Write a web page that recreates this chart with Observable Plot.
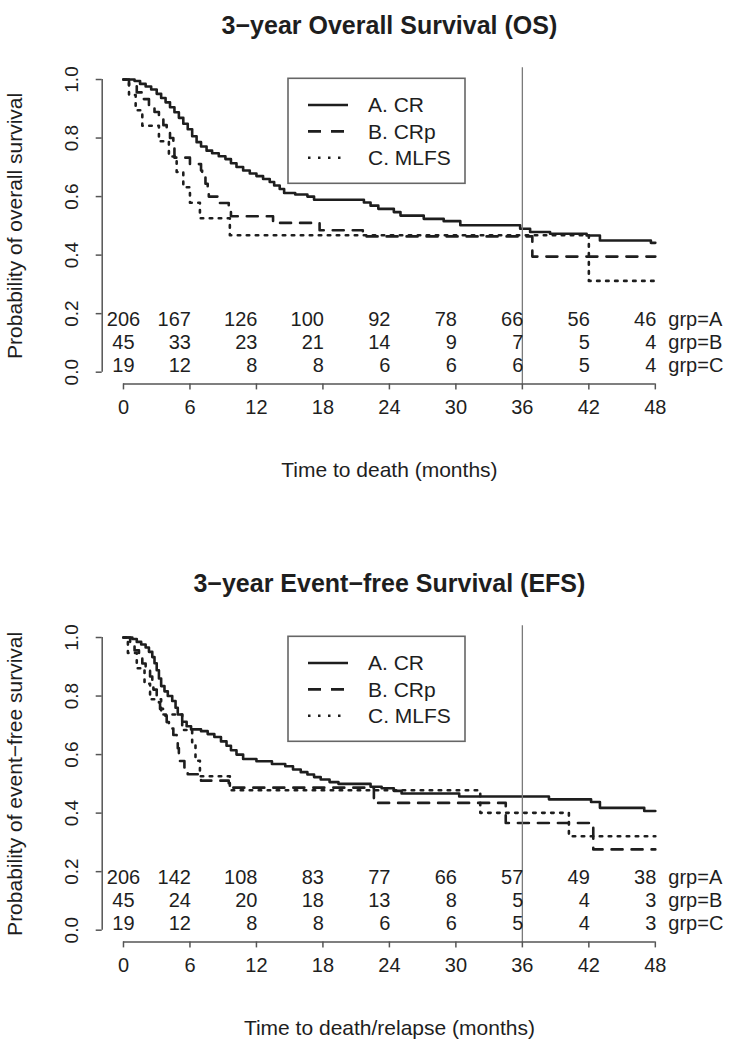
<!DOCTYPE html>
<html><head><meta charset="utf-8">
<script src="https://cdn.jsdelivr.net/npm/d3@7"></script>
<script src="https://cdn.jsdelivr.net/npm/@observablehq/plot@0.6"></script>
<style>body{margin:0;background:#fff} #charts svg{display:block}</style>
</head><body><div id="charts"></div>
<script>
// ---------- data ----------
const months = [0, 6, 12, 18, 24, 30, 36, 42, 48];
const yTicks = [0, 0.2, 0.4, 0.6, 0.8, 1.0];
const groups = ["A", "B", "C"];
const legendLabels = ["A. CR", "B. CRp", "C. MLFS"];
const landmark = 36;

// Overall survival (OS)
const osA_t = [0,1.0,1.5,2.0,2.5,3.0,3.4,3.8,4.2,4.6,5.0,5.4,5.8,6.2,6.6,7.0,7.5,8.0,8.6,9.2,9.7,10.2,10.8,11.4,12.0,12.6,13.2,13.6,14.1,14.5,15.5,16.6,17.2,21.7,22.3,23.0,24.4,25.0,27.1,28.9,30.4,35.8,36.7,38.5,41.8,43.0,47.6,48];
const osA_s = [1,0.995,0.985,0.976,0.966,0.951,0.937,0.922,0.905,0.888,0.869,0.849,0.83,0.806,0.786,0.771,0.757,0.748,0.738,0.728,0.714,0.701,0.689,0.679,0.67,0.66,0.65,0.638,0.626,0.612,0.607,0.6,0.589,0.58,0.569,0.558,0.547,0.535,0.524,0.516,0.502,0.49,0.479,0.473,0.467,0.45,0.442,0.442];
const osB_t = [0,0.5,1.2,1.8,2.3,2.8,3.2,3.6,3.9,4.2,4.5,4.6,6.0,7.0,7.1,7.4,7.6,7.7,8.5,9.5,9.7,13.5,17.7,21.6,36.9,48];
const osB_s = [1,0.978,0.956,0.933,0.911,0.889,0.867,0.844,0.822,0.8,0.778,0.733,0.711,0.689,0.667,0.644,0.622,0.6,0.578,0.556,0.533,0.51,0.485,0.464,0.395,0.395];
const osC_t = [0,0.5,1.1,1.7,3.2,4.1,4.8,5.4,6.0,6.9,9.6,42.0,48];
const osC_s = [1,0.947,0.895,0.842,0.789,0.737,0.684,0.632,0.579,0.526,0.468,0.312,0.312];
const osRiskA = [206,167,126,100,92,78,66,56,46];
const osRiskB = [45,33,23,21,14,9,7,5,4];
const osRiskC = [19,12,8,8,6,6,6,5,4];

// Event-free survival (EFS)
const efsA_t = [0,0.8,1.2,1.6,2.0,2.3,2.6,2.8,3.0,3.2,3.4,3.7,4.0,4.4,4.7,4.9,5.3,5.7,6.1,7.0,7.6,8.2,8.8,9.3,9.7,10.2,10.8,12.0,13.4,14.6,15.3,16.0,16.6,17.2,17.8,18.6,19.4,22.3,23.3,24.4,25.1,30.3,38.4,42.2,43.0,47.0,48];
const efsA_s = [1,0.995,0.985,0.976,0.966,0.951,0.933,0.912,0.888,0.86,0.834,0.816,0.8,0.783,0.76,0.737,0.712,0.697,0.686,0.68,0.67,0.66,0.645,0.63,0.615,0.6,0.585,0.577,0.568,0.56,0.549,0.54,0.532,0.523,0.515,0.506,0.5,0.49,0.485,0.476,0.467,0.457,0.447,0.438,0.418,0.407,0.407];
const efsB_t = [0,0.6,1.0,1.4,1.7,2.0,2.4,2.6,2.7,3.0,3.2,3.3,3.6,3.9,4.1,4.5,4.8,4.9,5.0,5.1,5.5,5.8,7.0,9.5,22.6,34.5,42.4,48];
const efsB_s = [1,0.978,0.956,0.933,0.911,0.889,0.867,0.844,0.822,0.8,0.778,0.756,0.733,0.711,0.689,0.667,0.644,0.622,0.6,0.578,0.556,0.533,0.511,0.487,0.435,0.366,0.276,0.276];
const efsC_t = [0,0.4,1.2,1.9,2.4,3.4,5.3,6.2,6.5,6.9,9.6,32.2,40.2,48];
const efsC_s = [1,0.947,0.895,0.842,0.789,0.737,0.684,0.632,0.579,0.526,0.478,0.401,0.321,0.321];
const efsRiskA = [206,142,108,83,77,66,57,49,38];
const efsRiskB = [45,24,20,18,13,8,5,4,3];
const efsRiskC = [19,12,8,8,6,6,5,4,3];

// ---------- styling ----------
const W = 731;
const M = {left: 101.7, right: 54.9, top: 67.3, frameBottom: 383.4};
const ink = "#1e1e1e";
const axisInk = "#555";
const font = "'Liberation Sans', Arial, Helvetica, sans-serif";
const dashes = [null, "11 9", "2.5 6.5"];
const legendDashes = [null, "13 10", "2.5 7.5"];
const lineW = 2.6;
const rowDy = [-57.9, -34.9, -12.4];

function rows(ts, ss) { return ts.map((t, i) => ({t, s: ss[i]})); }

function legendMark() {
  return () => {
    const g = d3.create("svg:g");
    g.append("rect").attr("x", 288).attr("y", 78.3).attr("width", 177).attr("height", 105)
      .attr("fill", "white").attr("stroke", "#666").attr("stroke-width", 1.6);
    legendLabels.forEach((lab, i) => {
      const y = 105 + i * 26.4;
      const l = g.append("line").attr("x1", 308).attr("x2", 348).attr("y1", y).attr("y2", y)
        .attr("stroke", ink).attr("stroke-width", lineW);
      if (legendDashes[i]) l.attr("stroke-dasharray", legendDashes[i]);
      g.append("text").attr("x", 368).attr("y", y).attr("dy", "0.35em")
        .attr("text-anchor", "start")
        .attr("font-size", 21).attr("fill", ink).attr("font-family", font).text(lab);
    });
    return g.node();
  };
}

function panel({title, yLabel, xLabel, curves, risks, height}) {
  const marks = [];
  curves.forEach((c, i) => {
    marks.push(Plot.line(rows(c[0], c[1]), {
      x: "t", y: "s", curve: "step-after", stroke: ink, strokeWidth: lineW,
      strokeDasharray: dashes[i] || undefined
    }));
  });
  marks.push(Plot.ruleX([landmark], {stroke: "#7a7a7a", strokeWidth: 1.3}));
  marks.push(Plot.ruleX([-1.92], {y1: 0, y2: 1, stroke: axisInk, strokeWidth: 1.5}));
  marks.push(Plot.ruleY([-0.04], {x1: 0, x2: 48, stroke: axisInk, strokeWidth: 1.5}));
  marks.push(Plot.axisY({ticks: yTicks, tickSize: 6, tickFormat: () => "", label: null,
    stroke: axisInk, strokeWidth: 1.5}));
  marks.push(Plot.text(yTicks, {y: d => d, text: d => d.toFixed(1), frameAnchor: "left", dx: -30,
    rotate: -90, textAnchor: "middle", fontSize: 19, fill: ink}));
  marks.push(Plot.axisX({ticks: months, tickSize: 6, tickPadding: 10, fontSize: 20, label: null,
    stroke: axisInk, strokeWidth: 1.5, color: ink}));
  risks.forEach((r, i) => {
    const d = months.map((m, j) => ({m, n: r[j]}));
    marks.push(Plot.text(d.slice(0, 1), {x: "m", text: "n", frameAnchor: "bottom", dy: rowDy[i],
      textAnchor: "middle", fontSize: 20, fill: ink}));
    marks.push(Plot.text(d.slice(1), {x: "m", text: "n", frameAnchor: "bottom", dy: rowDy[i],
      dx: 1, textAnchor: "end", fontSize: 20, fill: ink}));
    marks.push(Plot.text([groups[i]], {x: () => 48, text: g => "grp=" + g, frameAnchor: "bottom",
      dy: rowDy[i], dx: 13, textAnchor: "start", fontSize: 20, fill: ink}));
  });
  marks.push(Plot.text([title], {frameAnchor: "top", dy: -51.3, fontSize: 25, fontWeight: "bold", fill: ink}));
  marks.push(Plot.text([xLabel], {frameAnchor: "bottom", dy: 93.3, fontSize: 21, fill: ink}));
  marks.push(Plot.text([yLabel], {frameAnchor: "left", dx: -86.7, rotate: -90, textAnchor: "middle",
    fontSize: 21, fill: ink}));
  marks.push(legendMark());

  return Plot.plot({
    width: W, height,
    marginLeft: M.left, marginRight: M.right, marginTop: M.top, marginBottom: height - M.frameBottom,
    x: {domain: [-1.92, 49.92], label: null},
    y: {domain: [-0.04, 1.04], label: null},
    style: {fontFamily: font, background: "white", color: ink, overflow: "visible"},
    marks
  });
}

const root = document.getElementById("charts");
root.append(panel({
  title: "3\u2212year Overall Survival (OS)",
  yLabel: "Probability of overall survival",
  xLabel: "Time to death (months)",
  curves: [[osA_t, osA_s], [osB_t, osB_s], [osC_t, osC_s]],
  risks: [osRiskA, osRiskB, osRiskC],
  height: 558
}));
root.append(panel({
  title: "3\u2212year Event\u2212free Survival (EFS)",
  yLabel: "Probability of event\u2212free survival",
  xLabel: "Time to death/relapse (months)",
  curves: [[efsA_t, efsA_s], [efsB_t, efsB_s], [efsC_t, efsC_s]],
  risks: [efsRiskA, efsRiskB, efsRiskC],
  height: 492
}));
</script>
</body></html>
